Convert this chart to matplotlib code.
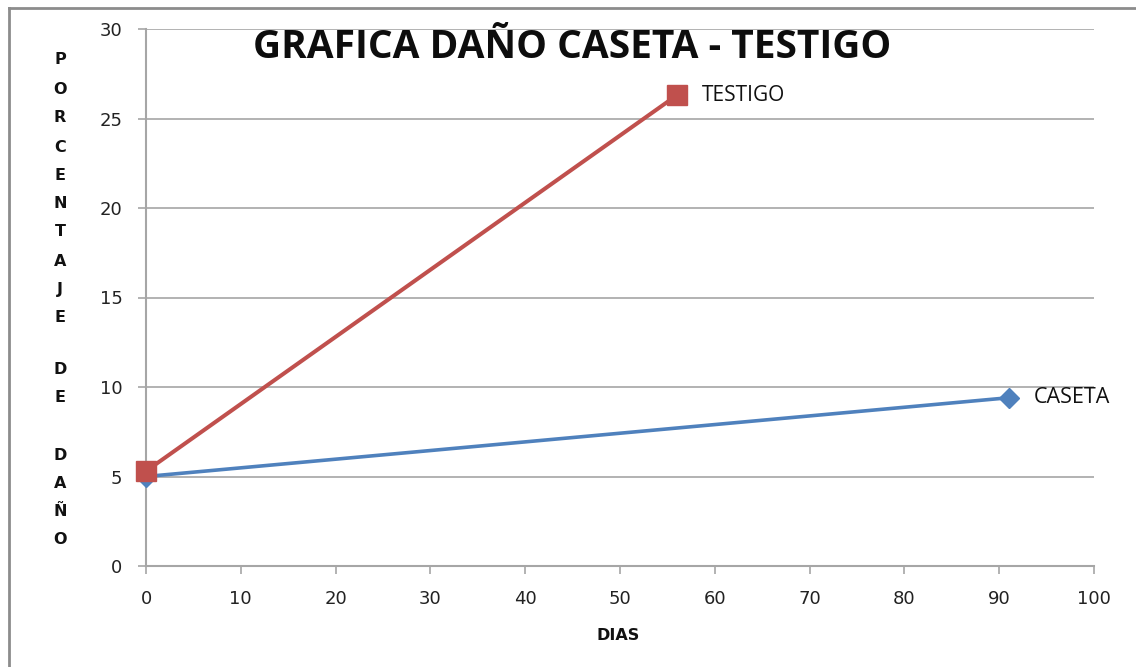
import matplotlib
matplotlib.use("Agg")
import matplotlib.pyplot as plt
from matplotlib.lines import Line2D

# ---- data ----
dias_testigo = [0, 56]
dano_testigo = [5.3, 26.3]
dias_caseta = [0, 91]
dano_caseta = [5.0, 9.4]
series_names = ["TESTIGO", "CASETA"]
x_ticks = [0, 10, 20, 30, 40, 50, 60, 70, 80, 90, 100]
y_ticks = [0, 5, 10, 15, 20, 25, 30]
title = "GRAFICA DAÑO CASETA - TESTIGO"
xlabel = "DIAS"
ylabel_letters = ["P", "O", "R", "C", "E", "N", "T", "A", "J", "E",
                  "D", "E", "D", "A", "Ñ", "O"]
ylabel_py = [60, 89, 118, 148, 175, 203, 232, 262, 290, 318,
             370, 398, 455, 483, 512, 540]

W, H = 1136, 667
fig = plt.figure(figsize=(W / 100, H / 100), dpi=100)
fig.patch.set_facecolor("white")
ax = fig.add_axes([146 / W, 1 - 566 / H, (1094 - 146) / W, (566 - 29) / H])

red = "#C0504D"
blue = "#4F81BD"
grid_c = "#A6A6A6"

ax.plot(dias_caseta, dano_caseta, color=blue, lw=2.6, marker="D", ms=10,
        markeredgecolor=blue, zorder=3, clip_on=False)
ax.plot(dias_testigo, dano_testigo, color=red, lw=2.9, marker="s", ms=14.5,
        markeredgecolor=red, zorder=4, clip_on=False)

ax.set_xlim(0, 100)
ax.set_ylim(0, 30)
ax.set_xticks(x_ticks)
ax.set_yticks(y_ticks)
ax.yaxis.grid(True, color=grid_c, lw=1.2)
ax.set_axisbelow(True)
for s in ["top", "right"]:
    ax.spines[s].set_visible(False)
for s in ["left", "bottom"]:
    ax.spines[s].set_color(grid_c)
    ax.spines[s].set_linewidth(1.5)
ax.tick_params(axis="both", colors=grid_c, labelcolor="#222222",
               labelsize=13, length=6, width=1.2, pad=11)

# labels at series end points
ax.annotate(series_names[0], (dias_testigo[-1], dano_testigo[-1]),
            xytext=(18, 0), textcoords="offset points", va="center",
            ha="left", fontsize=15, family="Open Sans", color="#111111")
ax.annotate(series_names[1], (dias_caseta[-1], dano_caseta[-1]),
            xytext=(18, 0), textcoords="offset points", va="center",
            ha="left", fontsize=15.5, family="Open Sans", color="#111111")

fig.text(572 / W, 1 - 48 / H, title, ha="center", va="center",
         fontsize=28, fontweight="bold", family="Open Sans", color="#0d0d0d")
fig.text(618 / W, 1 - 636 / H, xlabel, ha="center", va="center",
         fontsize=11.5, fontweight="bold", family="DejaVu Sans", color="#111111")
for ch, py in zip(ylabel_letters, ylabel_py):
    fig.text(60 / W, 1 - py / H, ch, ha="center", va="center",
             fontsize=11.5, fontweight="bold", family="DejaVu Sans",
             color="#111111")

# outer frame (left and top edges)
fig.add_artist(Line2D([9 / W, 9 / W], [0, 1 - 8 / H], transform=fig.transFigure,
                      color="#8c8c8c", lw=2))
fig.add_artist(Line2D([9 / W, 1], [1 - 8 / H, 1 - 8 / H], transform=fig.transFigure,
                      color="#8c8c8c", lw=2))

fig.savefig("out.png", dpi=100)
